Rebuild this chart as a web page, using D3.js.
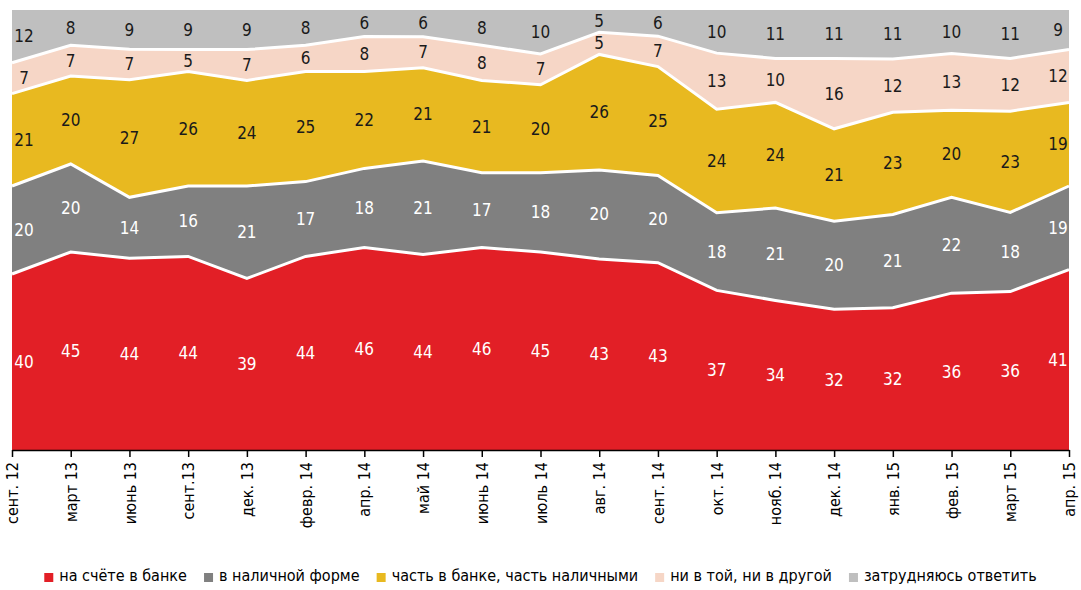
<!DOCTYPE html>
<html>
<head>
<meta charset="utf-8">
<script src="https://cdn.jsdelivr.net/npm/d3@7"></script>
<style>
  body { margin: 0; background: #fff; }
  text { font-family: "DejaVu Sans Condensed", "DejaVu Sans", sans-serif; }
</style>
</head>
<body>
<div id="chart"></div>
<script>
// Data
const months = ["сент. 12", "март 13", "июнь 13", "сент.13", "дек. 13", "февр. 14", "апр. 14", "май 14",
  "июнь 14", "июль 14", "авг. 14", "сент. 14", "окт. 14", "нояб. 14", "дек. 14", "янв. 15", "фев. 15", "март 15", "апр. 15"]
const keys = ["bank", "cash", "both", "none", "dk"]
const names = ["на счёте в банке", "в наличной форме", "часть в банке, часть наличными", "ни в той, ни в другой", "затрудняюсь ответить"]
const bank = [40, 45, 44, 44, 39, 44, 46, 44, 46, 45, 43, 43, 37, 34, 32, 32, 36, 36, 41]
const cash = [20, 20, 14, 16, 21, 17, 18, 21, 17, 18, 20, 20, 18, 21, 20, 21, 22, 18, 19]
const both = [21, 20, 27, 26, 24, 25, 22, 21, 21, 20, 26, 25, 24, 24, 21, 23, 20, 23, 19]
const none = [7, 7, 7, 5, 7, 6, 8, 7, 8, 7, 5, 7, 13, 10, 16, 12, 13, 12, 12]
const dk = [12, 8, 9, 9, 9, 8, 6, 6, 8, 10, 5, 6, 10, 11, 11, 11, 10, 11, 9]

const colors = ["#e21f26", "#808080", "#e8b920", "#f6d6c6", "#bfbfbf"]
const labelColors = ["#fff", "#fff", "#1a1a1a", "#1a1a1a", "#1a1a1a"]

const rows = months.map((m, i) => ({ i: i, bank: bank[i], cash: cash[i], both: both[i], none: none[i], dk: dk[i] }))

const width = 1081, height = 590
const margin = { left: 12, right: 12, top: 10, bottom: 140 }

const svg = d3.select("#chart").append("svg")
  .attr("width", width)
  .attr("height", height)

const x = d3.scaleLinear()
  .domain([0, months.length - 1])
  .range([margin.left, width - margin.right])

const y = d3.scaleLinear()
  .domain([0, 1])
  .range([height - margin.bottom, margin.top])

const stack = d3.stack().keys(keys).offset(d3.stackOffsetExpand)
const series = stack(rows)

const area = d3.area()
  .x(d => x(d.data.i))
  .y0(d => y(d[0]))
  .y1(d => y(d[1]))

svg.append("g").selectAll("path")
  .data(series)
  .join("path")
  .attr("d", area)
  .attr("fill", (d, i) => colors[i])

// white separators
const line = d3.line()
  .x(d => x(d.data.i))
  .y(d => y(d[1]))

svg.append("g").selectAll("path")
  .data(series.slice(0, series.length - 1))
  .join("path")
  .attr("d", line)
  .attr("fill", "none")
  .attr("stroke", "#fff")
  .attr("stroke-width", 3)

// value labels
series.forEach(function(s, k) {
  svg.append("g").selectAll("text")
    .data(s)
    .join("text")
    .attr("x", d => Math.max(x.range()[0] + 12, Math.min(x.range()[1] - 11, x(d.data.i))))
    .attr("y", d => (y(d[0]) + y(d[1])) / 2)
    .attr("dy", "0.35em")
    .attr("text-anchor", "middle")
    .attr("fill", labelColors[k])
    .attr("font-size", 17)
    .text(d => d.data[keys[k]])
})

// x axis
const xAxis = d3.axisBottom(x)
  .tickValues(d3.range(months.length))
  .tickFormat(i => months[i])
  .tickSize(7)
  .tickSizeOuter(0)

const gx = svg.append("g")
  .attr("transform", `translate(0,${height - margin.bottom})`)
  .call(xAxis)

gx.select(".domain").attr("stroke", "#000").attr("stroke-width", 1.5)
gx.selectAll(".tick line").attr("stroke", "#000").attr("stroke-width", 1.5)
gx.selectAll(".tick text")
  .attr("font-size", 16)
  .attr("fill", "#000")
  .attr("transform", "rotate(-90)")
  .attr("text-anchor", "end")
  .attr("x", -12)
  .attr("y", 0)
  .attr("dy", "0.35em")

// legend
const legend = svg.append("g")
const items = legend.selectAll("g")
  .data(names)
  .join("g")

items.append("rect")
  .attr("width", 9).attr("height", 9)
  .attr("y", -8)
  .attr("fill", (d, i) => colors[i])

items.append("text")
  .attr("x", 15)
  .attr("font-size", 16)
  .attr("fill", "#000")
  .text(d => d)

let pos = 0
items.each(function() {
  d3.select(this).attr("transform", `translate(${pos},0)`)
  pos += this.getBBox().width + 17
})
pos -= 17
legend.attr("transform", `translate(${(width - pos) / 2},581)`)
</script>
</body>
</html>
